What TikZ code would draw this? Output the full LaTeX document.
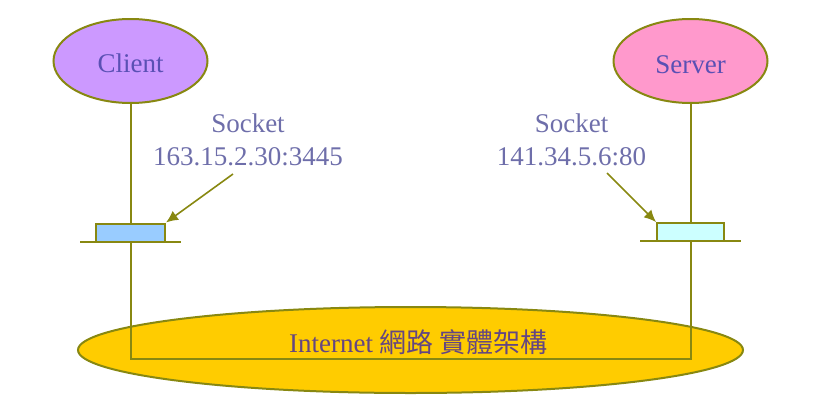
\documentclass[tikz,border=0pt]{standalone}
\usepackage{fontspec}
\setmainfont{Liberation Serif}
\newfontfamily\cjkfont{Noto Sans CJK TC}
\usetikzlibrary{arrows.meta,shapes.geometric,calc}
\definecolor{olivel}{RGB}{136,136,17}
\definecolor{clientfill}{RGB}{204,153,255}
\definecolor{serverfill}{RGB}{255,153,204}
\definecolor{cboxfill}{RGB}{153,204,255}
\definecolor{sboxfill}{RGB}{204,255,255}
\definecolor{netfill}{RGB}{255,204,0}
\definecolor{txtcol}{RGB}{90,80,180}
\definecolor{sockcol}{RGB}{110,110,170}
\definecolor{nettxt}{RGB}{100,70,130}
\begin{document}
\begin{tikzpicture}[x=1pt,y=-1pt,
  lineol/.style={draw=olivel,line width=2pt},
  endpoint/.style={ellipse,lineol,inner sep=0pt,minimum width=154pt,minimum height=84pt},
  sockbox/.style={rectangle,lineol,inner sep=0pt,minimum height=18pt},
  lbl/.style={font=\fontsize{27}{33}\selectfont,inner sep=0pt},
  socklbl/.style={lbl,text=sockcol,align=center,anchor=base},
  pointer/.style={draw=olivel,line width=1.6pt,-{Latex[length=12pt,width=11pt]}}]
\useasboundingbox (0,0) rectangle (817,418);
% internet ellipse
\node[ellipse,lineol,fill=netfill,inner sep=0pt,minimum width=665pt,minimum height=86pt] (internet) at (410.5,350) {};
% end hosts
\node[endpoint,fill=clientfill] (client) at (130.5,61) {};
\node[endpoint,fill=serverfill] (server) at (690.5,61) {};
\node[lbl,text=txtcol,anchor=base] (ctext) at (130.5,72) {Client};
\node[lbl,text=txtcol,anchor=base] (stext) at (690.5,73) {Server};
% socket boxes
\node[sockbox,fill=cboxfill,minimum width=69pt] (cbox) at (130.5,232.5) {};
\node[sockbox,fill=sboxfill,minimum width=67pt] (sbox) at (690.5,232) {};
% bars
\coordinate (cbarl) at (80,242);
\coordinate (cbarr) at (181,242);
\coordinate (cbarm) at (131,242);
\coordinate (sbarl) at (640,241);
\coordinate (sbarr) at (741,241);
\coordinate (sbarm) at (691,241);
\coordinate (cbot) at (131,359);
\coordinate (sbot) at (691,359);
\draw[lineol] (client.south) -- (cbox.north);
\draw[lineol] (server.south) -- (sbox.north);
\draw[lineol] (cbarl) -- (cbarr);
\draw[lineol] (sbarl) -- (sbarr);
\draw[lineol] (cbarm) -- (cbot) -- (sbot) -- (sbarm);
% labels
\node[socklbl] (clabel) at (248,165) {Socket\\163.15.2.30:3445};
\node[socklbl] (slabel) at (571.5,165) {Socket\\141.34.5.6:80};
\coordinate (cstart) at (233,174);
\coordinate (sstart) at (607,173);
\draw[pointer] (cstart) -- (cbox.north east);
\draw[pointer] (sstart) -- (sbox.north west);
% internet text
\node[lbl,text=nettxt,anchor=base] (nettext) at (418.5,352) {Internet {\cjkfont 網路 實體架構}};
\end{tikzpicture}
\end{document}
